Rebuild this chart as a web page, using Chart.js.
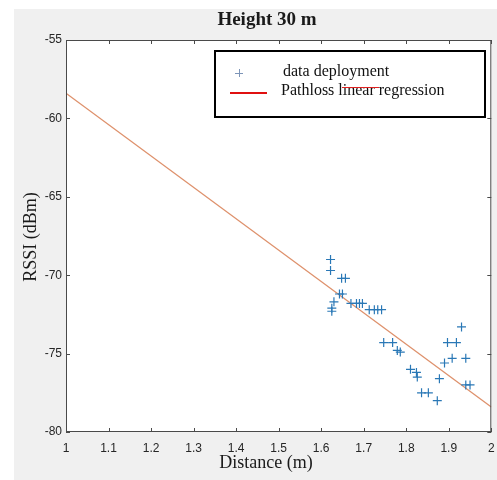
<!DOCTYPE html>
<html>
<head>
<meta charset="utf-8">
<script src="https://cdn.jsdelivr.net/npm/chart.js@4"></script>
<style>
  body { margin: 0; background: #fff; }
  #chart { display: block; }
</style>
</head>
<body>
<canvas id="chart" width="497" height="480"></canvas>
<script>
// measured points (distance in m, RSSI in dBm)
const distX = [1.622, 1.622, 1.648, 1.657, 1.643, 1.650, 1.630, 1.625, 1.625,
    1.670, 1.683, 1.690, 1.697, 1.713, 1.725, 1.733, 1.742,
    1.747, 1.768, 1.779, 1.786, 1.810, 1.824, 1.826, 1.836, 1.852, 1.873,
    1.878, 1.890, 1.897, 1.918, 1.930, 1.908, 1.940, 1.940, 1.950];
const rssi = [-69.0, -69.7, -70.2, -70.2, -71.2, -71.2, -71.7, -72.1, -72.3,
    -71.8, -71.8, -71.8, -71.8, -72.2, -72.2, -72.2, -72.2,
    -74.3, -74.3, -74.8, -74.9, -76.0, -76.2, -76.5, -77.5, -77.5, -78.0,
    -76.6, -75.6, -74.3, -74.3, -73.3, -75.3, -75.3, -77.0, -77.0];

// regression line end points
const fitX = [1, 2];
const fitY = [-58.4, -78.4];

const xTicks = [1, 1.1, 1.2, 1.3, 1.4, 1.5, 1.6, 1.7, 1.8, 1.9, 2];
const yTicks = [-80, -75, -70, -65, -60, -55];

const titleText = 'Height 30 m';
const xTitle = 'Distance (m)';
const yTitle = 'RSSI (dBm)';
const legendLabels = ['data deployment', 'Pathloss linear regression'];

const serif = '"Liberation Serif", "DejaVu Serif", serif';
const sans = '"Liberation Sans", Arial, sans-serif';

// MATLAB-like frame, inward ticks, titles and legend box
const figurePlugin = {
    id: 'figure',
    beforeDraw(chart) {
        const ctx = chart.ctx;
        const a = chart.chartArea;
        ctx.save();
        ctx.fillStyle = '#fff';
        ctx.fillRect(0, 0, chart.width, chart.height);
        ctx.fillStyle = '#f0f0f0';
        ctx.fillRect(14, 9, chart.width - 14, chart.height - 9);
        ctx.fillStyle = '#fff';
        ctx.fillRect(a.left, a.top, a.right - a.left, a.bottom - a.top);
        ctx.restore();
    },
    afterDraw(chart) {
        const ctx = chart.ctx;
        const a = chart.chartArea;
        const xs = chart.scales.x, ys = chart.scales.y;
        ctx.save();

        // frame
        ctx.strokeStyle = '#4a4a4a';
        ctx.lineWidth = 1;
        ctx.strokeRect(a.left + 0.5, a.top + 0.5, a.right - a.left - 1, a.bottom - a.top - 1);

        // inward ticks
        ctx.beginPath();
        xTicks.forEach(v => {
            const px = Math.round(xs.getPixelForValue(v)) + 0.5;
            ctx.moveTo(px, a.bottom); ctx.lineTo(px, a.bottom - 4);
            ctx.moveTo(px, a.top); ctx.lineTo(px, a.top + 4);
        });
        yTicks.forEach(v => {
            const py = Math.round(ys.getPixelForValue(v)) + 0.5;
            ctx.moveTo(a.left, py); ctx.lineTo(a.left + 4, py);
            ctx.moveTo(a.right, py); ctx.lineTo(a.right - 4, py);
        });
        ctx.stroke();

        // titles
        ctx.fillStyle = '#1a1a1a';
        ctx.textAlign = 'center';
        ctx.textBaseline = 'middle';
        ctx.font = 'bold 19px ' + serif;
        ctx.fillText(titleText, 267, 20);
        ctx.font = '18px ' + serif;
        ctx.fillText(xTitle, 266, 463);
        ctx.save();
        ctx.translate(31, 237);
        ctx.rotate(-Math.PI / 2);
        ctx.fillText(yTitle, 0, 0);
        ctx.restore();

        // legend
        ctx.fillStyle = '#fff';
        ctx.fillRect(215, 51, 270, 66);
        ctx.strokeStyle = '#000';
        ctx.lineWidth = 2;
        ctx.strokeRect(215, 51, 270, 66);

        ctx.strokeStyle = '#7d95b8';
        ctx.lineWidth = 1;
        ctx.beginPath();
        ctx.moveTo(235, 73.5); ctx.lineTo(243, 73.5);
        ctx.moveTo(239.5, 69); ctx.lineTo(239.5, 77);
        ctx.stroke();

        ctx.strokeStyle = '#e01010';
        ctx.lineWidth = 2;
        ctx.beginPath();
        ctx.moveTo(230, 93); ctx.lineTo(267, 93);
        ctx.stroke();

        ctx.fillStyle = '#111';
        ctx.textAlign = 'left';
        ctx.font = '16px ' + serif;
        ctx.fillText(legendLabels[0], 283, 72);
        ctx.fillText(legendLabels[1], 281, 91);

        // spell-check squiggle under "linear"
        ctx.strokeStyle = '#e02020';
        ctx.lineWidth = 1;
        ctx.beginPath();
        ctx.moveTo(342, 87.5); ctx.lineTo(379, 87.5);
        ctx.stroke();

        ctx.restore();
    }
};

const ctx = document.getElementById('chart').getContext('2d');
new Chart(ctx, {
    type: 'scatter',
    data: {
        datasets: [{
            label: legendLabels[0],
            data: distX.map((x, i) => ({ x: x, y: rssi[i] })),
            pointStyle: 'cross',
            pointRadius: 4.5,
            borderColor: '#2a78b6',
            borderWidth: 1.2,
            backgroundColor: '#2a78b6',
            order: 1
        }, {
            label: legendLabels[1],
            type: 'line',
            data: fitX.map((x, i) => ({ x: x, y: fitY[i] })),
            borderColor: 'rgb(222, 145, 108)',
            borderWidth: 1.3,
            pointRadius: 0,
            fill: false,
            order: 2
        }]
    },
    options: {
        responsive: false,
        animation: false,
        layout: { padding: { top: 40, right: 5, left: 0, bottom: 0 } },
        plugins: {
            legend: { display: false },
            title: { display: false },
            tooltip: { enabled: false }
        },
        scales: {
            x: {
                type: 'linear',
                min: 1,
                max: 2,
                afterFit(scale) {
                    scale.height = 48;
                    scale.paddingLeft = 0;
                    scale.paddingRight = 0;
                },
                afterBuildTicks(scale) { scale.ticks = xTicks.map(v => ({ value: v })); },
                grid: { display: false, drawTicks: false },
                border: { display: false },
                ticks: {
                    autoSkip: false,
                    maxRotation: 0,
                    padding: 9,
                    color: '#262626',
                    font: { family: sans, size: 12 },
                    callback: v => String(+v.toFixed(1))
                }
            },
            y: {
                type: 'linear',
                min: -80,
                max: -55,
                afterFit(scale) {
                    scale.width = 66;
                    scale.paddingTop = 0;
                    scale.paddingBottom = 0;
                },
                afterBuildTicks(scale) { scale.ticks = yTicks.map(v => ({ value: v })); },
                grid: { display: false, drawTicks: false },
                border: { display: false },
                ticks: {
                    padding: 4,
                    color: '#262626',
                    font: { family: sans, size: 12 },
                    callback: v => String(v)
                }
            }
        }
    },
    plugins: [figurePlugin]
});
</script>
</body>
</html>
